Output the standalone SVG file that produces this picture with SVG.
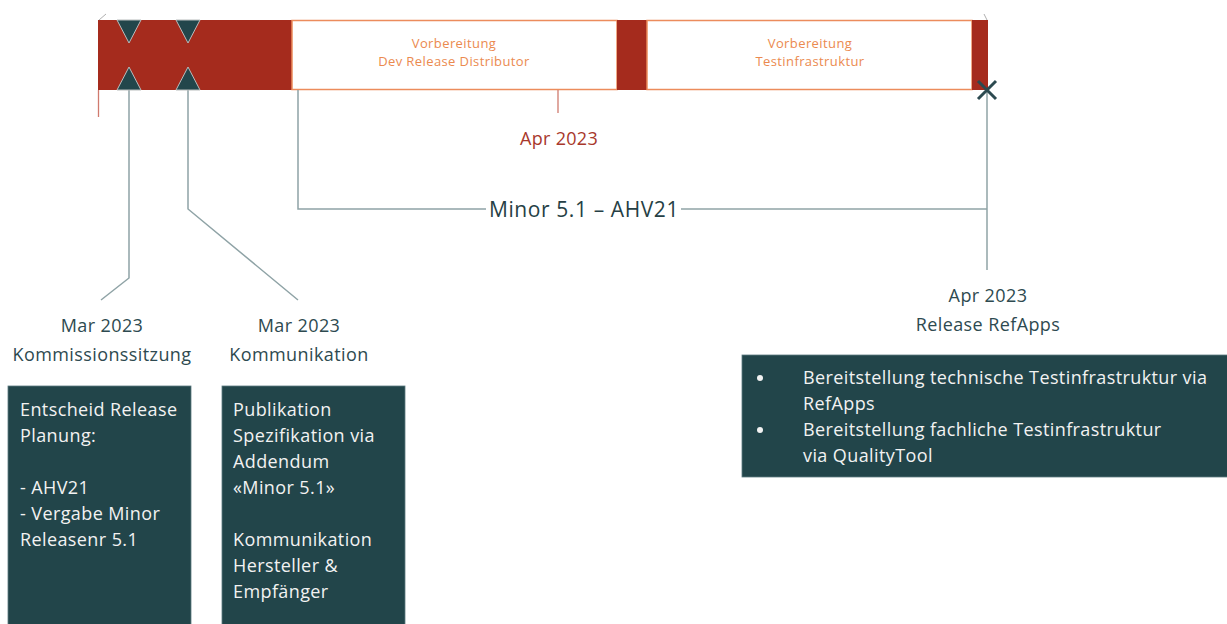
<svg xmlns="http://www.w3.org/2000/svg" width="1227" height="624" viewBox="0 0 1227 624">
<style>
.red{fill:#A52B1D}
.seg{fill:#ffffff;stroke:#EC8C5C;stroke-width:1.5}
.seglbl{font-family:"Open Sans","Liberation Sans",sans-serif;font-size:13px;fill:#EB8A4F;text-anchor:middle;letter-spacing:0.4px}
.tri{fill:#22464B;stroke:#B9BDBD;stroke-width:1}
.conn{fill:none;stroke:#8FA3A6;stroke-width:1.5}
.lbl{font-family:"Open Sans","Liberation Sans",sans-serif;font-size:18px;fill:#2E4A50;text-anchor:middle;letter-spacing:0.4px}
.big{font-size:21px;letter-spacing:0.6px;fill:#263F45}
.box{fill:#22454A;stroke:#5C7B80;stroke-width:0.8}
.btxt{font-family:"Open Sans","Liberation Sans",sans-serif;font-size:18px;fill:#F2F2F2;letter-spacing:0.4px}
</style>
<g id="timeline">
<rect class="red" x="98" y="20" width="194" height="70"/>
<rect class="seg" x="292" y="20.5" width="325" height="69"/>
<rect class="red" x="617" y="20" width="30" height="70"/>
<rect class="seg" x="647" y="20.5" width="325" height="69"/>
<rect class="red" x="972" y="20" width="16" height="70"/>
<line x1="99" y1="20" x2="106" y2="14" stroke="#B0B0B0" stroke-width="1"/>
<line x1="984" y1="14" x2="987" y2="20" stroke="#B0B0B0" stroke-width="1"/>
<line x1="98.5" y1="90" x2="98.5" y2="117" stroke="#D07A6E" stroke-width="1.3"/>
<line x1="558" y1="90" x2="558" y2="113" stroke="#D07A6E" stroke-width="1.3"/>
<text x="454" y="48" class="seglbl">Vorbereitung</text>
<text x="454" y="66" class="seglbl">Dev Release Distributor</text>
<text x="810" y="48" class="seglbl">Vorbereitung</text>
<text x="810" y="66" class="seglbl">Testinfrastruktur</text>
<text x="559" y="145" font-family="Open Sans, Liberation Sans, sans-serif" font-size="18" letter-spacing="0.3" fill="#A8382B" text-anchor="middle">Apr 2023</text>
</g>
<g id="connectors">
<path class="conn" d="M129 90 V278 L101 300"/>
<path class="conn" d="M188 90 V209 L298 300"/>
<path class="conn" d="M298 90 V209 H486"/>
<path class="conn" d="M681 209 H987"/>
<path class="conn" d="M987 90 V270"/>
</g>
<g id="ms1">
<polygon class="tri" points="117,20 141,20 129,43"/>
<polygon class="tri" points="117,90 141,90 129,67"/>
</g>
<g id="ms2">
<polygon class="tri" points="176,20 200,20 188,43"/>
<polygon class="tri" points="176,90 200,90 188,67"/>
</g>
<g id="ms3">
<path d="M978 81 L996 99 M996 81 L978 99" stroke="#2C4A50" stroke-width="3" fill="none"/>
</g>
<g id="minor-label">
<text x="584" y="217" class="lbl big">Minor 5.1 – AHV21</text>
</g>
<g id="label1">
<text x="102" y="332" class="lbl">Mar 2023</text>
<text x="102" y="361" class="lbl">Kommissionssitzung</text>
</g>
<g id="label2">
<text x="299" y="332" class="lbl">Mar 2023</text>
<text x="299" y="361" class="lbl">Kommunikation</text>
</g>
<g id="label3">
<text x="988" y="302" class="lbl">Apr 2023</text>
<text x="988" y="331" class="lbl">Release RefApps</text>
</g>
<g id="box1">
<rect class="box" x="8" y="386" width="183" height="240"/>
<text class="btxt" x="20" y="416">Entscheid Release</text>
<text class="btxt" x="20" y="442">Planung:</text>
<text class="btxt" x="20" y="494">- AHV21</text>
<text class="btxt" x="20" y="520">- Vergabe Minor</text>
<text class="btxt" x="20" y="546">Releasenr 5.1</text>
</g>
<g id="box2">
<rect class="box" x="222" y="386" width="183" height="240"/>
<text class="btxt" x="233" y="416">Publikation</text>
<text class="btxt" x="233" y="442">Spezifikation via</text>
<text class="btxt" x="233" y="468">Addendum</text>
<text class="btxt" x="233" y="494">«Minor 5.1»</text>
<text class="btxt" x="233" y="546">Kommunikation</text>
<text class="btxt" x="233" y="572">Hersteller &amp;</text>
<text class="btxt" x="233" y="598">Empfänger</text>
</g>
<g id="box3">
<rect class="box" x="742" y="355" width="488" height="122"/>
<circle cx="760" cy="378" r="3" fill="#F2F2F2"/>
<circle cx="760" cy="430" r="3" fill="#F2F2F2"/>
<text class="btxt" x="803" y="384">Bereitstellung technische Testinfrastruktur via</text>
<text class="btxt" x="803" y="410">RefApps</text>
<text class="btxt" x="803" y="436">Bereitstellung fachliche Testinfrastruktur</text>
<text class="btxt" x="803" y="462">via QualityTool</text>
</g>
</svg>
